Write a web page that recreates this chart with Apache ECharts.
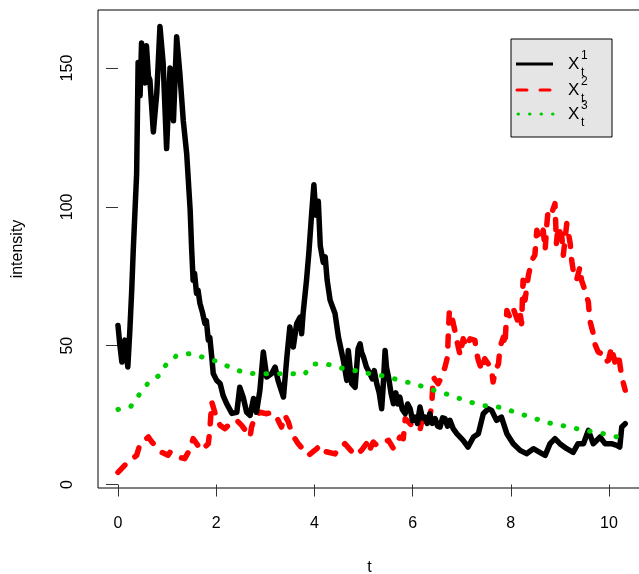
<!doctype html>
<html lang="en">
<head>
<meta charset="UTF-8">
<script src="https://cdn.jsdelivr.net/npm/echarts@6/dist/echarts.min.js"></script>
<title>intensity</title>
<style>html,body{margin:0;padding:0;background:#fff}</style>
</head>
<body>
<div id="main" style="width:639px;height:574px;"></div>
<script>
// tick values
var xTicks = [0, 2, 4, 6, 8, 10];
var yTicks = [0, 50, 100, 150];

// X_t^1, black path [t, intensity]
var x1 = [
  [0, 57.3], [0.04, 50], [0.08, 44.1], [0.14, 52], [0.2, 42.3], [0.24, 55], [0.28, 70],
  [0.31, 84], [0.35, 100], [0.38, 112], [0.41, 152], [0.45, 140], [0.48, 159], [0.52, 150],
  [0.55, 144.6], [0.58, 158], [0.62, 147], [0.65, 145.7], [0.72, 127], [0.79, 140.9],
  [0.855, 165], [0.92, 151.7], [0.99, 121], [1.06, 150], [1.13, 131], [1.195, 161.3],
  [1.26, 148], [1.33, 131], [1.40, 119], [1.47, 98.8], [1.50, 85], [1.53, 73.6], [1.56, 76],
  [1.60, 68.8], [1.63, 70], [1.67, 65.2], [1.72, 62], [1.77, 58], [1.80, 59], [1.84, 52],
  [1.87, 53], [1.91, 45.9], [1.94, 40], [2.01, 37.5], [2.08, 36.4],
  [2.14, 32.1], [2.21, 29.2], [2.32, 25.6], [2.42, 26], [2.48, 35], [2.55, 31.5], [2.62, 26],
  [2.69, 24.9], [2.76, 31], [2.82, 26], [2.89, 33.9], [2.96, 47.7], [3.03, 38.7], [3.13, 40],
  [3.20, 42.3], [3.26, 37.5], [3.37, 31.5], [3.44, 45.9], [3.50, 56.7], [3.57, 49.5],
  [3.64, 58], [3.71, 60.3], [3.74, 54.3], [3.77, 61.6], [3.84, 73.6], [3.89, 84], [3.95, 99],
  [3.99, 108], [4.03, 97], [4.08, 102], [4.12, 86], [4.18, 80], [4.22, 82], [4.26, 73.6],
  [4.32, 66.4], [4.42, 61.6], [4.49, 53.1], [4.59, 44.7], [4.66, 37.5], [4.69, 48.3],
  [4.76, 36.3], [4.83, 35], [4.89, 48.9], [4.93, 50.7], [4.96, 47.7], [5.00, 45.9],
  [5.06, 42.3], [5.13, 40], [5.18, 38], [5.22, 41], [5.27, 36.3], [5.32, 33], [5.37, 27.3],
  [5.40, 35], [5.44, 48.3], [5.47, 42], [5.51, 38.7], [5.56, 33], [5.61, 29.1], [5.66, 33],
  [5.70, 29], [5.74, 31.5], [5.79, 27], [5.85, 25.5], [5.90, 29], [5.95, 27.3], [6.00, 23],
  [6.05, 24.3], [6.10, 22], [6.15, 27.9], [6.20, 24], [6.25, 24.3], [6.30, 22], [6.35, 25.5],
  [6.40, 22], [6.46, 23.7], [6.51, 21], [6.56, 20.7], [6.61, 24], [6.66, 23.7], [6.71, 21],
  [6.76, 23.1], [6.83, 20], [6.90, 18.3], [7.03, 15.9], [7.13, 13.5], [7.24, 17.1], [7.34, 18.3], [7.44, 25.5],
  [7.54, 27.3], [7.61, 26.7], [7.71, 23.1], [7.81, 24.3], [7.92, 18.3], [8.05, 14.7],
  [8.19, 12.3], [8.32, 11.1], [8.46, 12.9], [8.59, 11.6], [8.70, 10.5], [8.80, 14.7],
  [8.90, 16.5], [9.00, 14.7], [9.14, 12.9], [9.27, 11.6], [9.37, 14.7], [9.48, 14.7],
  [9.58, 19.5], [9.68, 14.7], [9.82, 17.1], [9.92, 14.7], [10.05, 14.7], [10.16, 14.1],
  [10.22, 13.5], [10.26, 20.7], [10.33, 21.9]
];

// X_t^2, red dashed
var x2 = [
  [0, 4.4], [0.18, 7.7], [0.38, 10.5], [0.45, 14.7], [0.62, 17.1], [0.69, 15.3], [0.89, 11.6],
  [1.02, 10.5], [1.06, 11.6], [1.2, 10], [1.36, 9.3], [1.47, 12.9], [1.53, 16.5], [1.70, 12.3],
  [1.84, 14.7], [1.87, 19.5], [1.91, 29.7], [2.01, 23.7], [2.08, 21.3], [2.18, 20.1],
  [2.28, 21.9], [2.42, 23.1], [2.52, 21.3], [2.69, 17.1], [2.72, 20.7], [2.79, 24.3],
  [2.89, 26], [3.03, 25.5], [3.13, 26], [3.23, 24.3], [3.33, 20.7], [3.40, 24.9], [3.47, 22.5],
  [3.55, 18], [3.67, 14.7], [3.88, 10.5], [4.05, 12.9], [4.11, 14.1], [4.2, 12], [4.42, 11],
  [4.49, 12.9], [4.62, 14.7], [4.83, 10.5], [4.96, 12.3], [5.06, 14.7], [5.10, 11.6],
  [5.2, 15.3], [5.27, 14.1], [5.34, 14.7], [5.51, 15.9], [5.61, 12.9], [5.74, 17.1],
  [5.81, 16.5], [5.85, 23.7], [5.95, 21.9], [6.01, 20.7], [6.15, 19.5], [6.19, 23.1],
  [6.29, 20.7], [6.35, 24.3], [6.39, 28.5], [6.42, 38.7], [6.52, 36.3], [6.59, 38.7],
  [6.66, 42.3], [6.71, 45.9], [6.73, 55.5], [6.75, 62.7], [6.80, 60.3], [6.86, 55.5],
  [6.93, 49.5], [6.97, 46.5], [7.03, 52.5], [7.10, 49.5], [7.17, 52.5], [7.27, 51.9],
  [7.30, 47.7], [7.34, 44.7], [7.41, 41.1], [7.47, 45.3], [7.54, 43.5], [7.61, 41.1],
  [7.64, 36.9], [7.68, 40.5], [7.75, 43.5], [7.78, 49.5], [7.85, 53.1], [7.88, 50.1],
  [7.92, 62.7], [7.98, 60.3], [8.05, 63.4], [8.15, 58.5], [8.19, 61.6], [8.22, 57.9],
  [8.25, 73.6], [8.29, 66.4], [8.36, 75.4], [8.43, 80.8], [8.49, 82.6], [8.53, 91.6],
  [8.59, 88.6], [8.66, 91.6], [8.70, 84.4], [8.73, 92.8], [8.76, 98.8], [8.83, 97.6],
  [8.90, 101.2], [8.93, 86.8], [8.96, 92.8], [9.04, 89.2], [9.07, 82.6], [9.14, 94],
  [9.21, 86.8], [9.24, 80.8], [9.27, 77.2], [9.34, 73.6], [9.41, 78.4], [9.44, 73.6],
  [9.51, 70], [9.58, 65.7], [9.61, 59.1], [9.68, 54.3], [9.71, 50.7], [9.78, 47.7],
  [9.85, 47.1], [9.92, 44.1], [9.99, 44.7], [10.05, 49.5], [10.12, 44.1], [10.19, 47.1],
  [10.26, 38.7], [10.33, 34]
];

// X_t^3, green dotted
var x3 = [
  [0, 27], [0.26, 28.1], [0.43, 32.3], [0.62, 36.7], [0.84, 39.3], [0.99, 43.5], [1.20, 46.5],
  [1.45, 47.1], [1.76, 45.7], [2.06, 44.1], [2.37, 41.4], [2.67, 40], [2.96, 39.9],
  [3.22, 39.9], [3.48, 40], [3.79, 39.6], [3.98, 43.4], [4.25, 43.4], [4.58, 41.8],
  [4.86, 40.9], [5.13, 39.9], [5.44, 39], [5.74, 37.5], [6.03, 36.3], [6.37, 34.3],
  [6.71, 32.5], [7.05, 30.4], [7.39, 28.5], [7.71, 28.1], [8.05, 26.3], [8.41, 24.2],
  [8.77, 22.2], [9.14, 20.9], [9.50, 19.5], [9.86, 18.4], [10.22, 16.9], [10.33, 16.5]
];

var legendLabels = ['1', '2', '3'];

var font = '"Liberation Sans", Arial, sans-serif';
var myChart = echarts.init(document.getElementById('main'));

var legendItems = [
  {type: 'rect', shape: {x: 511, y: 39, width: 101, height: 98},
   style: {fill: '#e5e5e5', stroke: '#000', lineWidth: 1}},
  {type: 'line', shape: {x1: 516, y1: 64, x2: 553, y2: 64},
   style: {stroke: '#000', lineWidth: 3}},
  {type: 'line', shape: {x1: 517, y1: 90, x2: 553, y2: 90},
   style: {stroke: '#ff0000', lineWidth: 3, lineDash: [10, 13], lineCap: 'round'}},
  {type: 'line', shape: {x1: 518, y1: 114, x2: 553, y2: 114},
   style: {stroke: '#00cd00', lineWidth: 3, lineDash: [0.5, 11], lineCap: 'round'}}
];
var rows = [64, 90, 114];
for (var i = 0; i < legendLabels.length; i++) {
  legendItems.push({type: 'text', style: {text: 'X', x: 568, y: rows[i], font: '17px ' + font,
    verticalAlign: 'middle', fill: '#000'}});
  legendItems.push({type: 'text', style: {text: legendLabels[i], x: 581, y: rows[i] - 8,
    font: '12px ' + font, verticalAlign: 'middle', fill: '#000'}});
  legendItems.push({type: 'text', style: {text: 't', x: 581, y: rows[i] + 9,
    font: '12px ' + font, verticalAlign: 'middle', fill: '#000'}});
}

var option = {
  animation: false,
  backgroundColor: '#fff',
  grid: {left: 98, top: 10, right: -2, bottom: 86, show: true,
         borderColor: '#000', borderWidth: 1, containLabel: false, outerBoundsMode: 'none'},
  xAxis: {
    type: 'value', min: -0.407, max: 10.652,
    name: 't', nameLocation: 'middle', nameGap: 72,
    nameTextStyle: {fontSize: 16, fontFamily: font, color: '#000'},
    axisLine: {show: false},
    axisTick: {show: true, length: 12, customValues: xTicks, lineStyle: {color: '#333'}},
    axisLabel: {customValues: xTicks, margin: 28, fontSize: 16, fontFamily: font, color: '#000'},
    splitLine: {show: false}
  },
  yAxis: {
    type: 'value', min: -1.26, max: 170.9,
    name: 'intensity', nameLocation: 'middle', nameGap: 72, nameRotate: 90,
    nameTextStyle: {fontSize: 16, fontFamily: font, color: '#000'},
    axisLine: {show: false},
    axisTick: {show: true, length: 12, customValues: yTicks, lineStyle: {color: '#333'}},
    axisLabel: {customValues: yTicks, rotate: 90, margin: 22, fontSize: 16, fontFamily: font, color: '#000'},
    splitLine: {show: false}
  },
  series: [
    {name: 'X1', type: 'line', data: x1, symbol: 'none', z: 3,
     lineStyle: {color: '#000', width: 5.5, cap: 'round', join: 'round'}},
    {name: 'X2', type: 'line', data: x2, symbol: 'none', z: 2,
     lineStyle: {color: '#ff0000', width: 5.5, type: [10, 13], cap: 'round', join: 'round'}},
    {name: 'X3', type: 'line', data: x3, symbol: 'none', z: 4,
     lineStyle: {color: '#00cd00', width: 5, type: [0.5, 13], cap: 'round', join: 'round'}}
  ],
  graphic: legendItems
};
myChart.setOption(option);
</script>
</body>
</html>
